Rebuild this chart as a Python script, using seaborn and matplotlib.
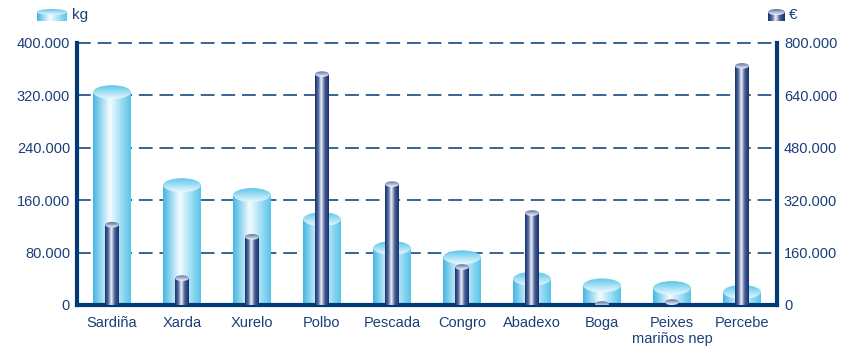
import numpy as np
import matplotlib.pyplot as plt
import seaborn as sns
from matplotlib.colors import LinearSegmentedColormap
from matplotlib.patches import Ellipse
from matplotlib.ticker import FuncFormatter

especies = ["Sardiña", "Xarda", "Xurelo", "Polbo", "Pescada", "Congro",
            "Abadexo", "Boga", "Peixes\nmariños nep", "Percebe"]
kg = [325000, 183000, 168000, 131000, 87000, 73000, 40000, 30000, 26000, 20000]
euros = [245000, 82000, 208000, 705000, 369000, 116000, 281000, 3000, 9000, 730000]

AZUL = '#003a78'
TEXTO = '#1b3f7a'

sns.set_theme(style='white')
plt.rcParams['font.family'] = ['Liberation Sans', 'DejaVu Sans']

claro = LinearSegmentedColormap.from_list('claro', [(0, '#44b6e2'), (0.44, '#f4fcff'), (1, '#58c4ea')])
escuro = LinearSegmentedColormap.from_list('escuro', [(0, '#13306c'), (0.25, '#5a6fa3'), (0.45, '#f2f4fa'),
                                                      (0.7, '#4a5f96'), (1, '#13306c')])
tapa_claro = LinearSegmentedColormap.from_list('tc', ['#5cc6ec', '#eaf8fd'])
tapa_escuro = LinearSegmentedColormap.from_list('te', ['#5a6fa3', '#f5f7fb'])

grad = np.linspace(0, 1, 256).reshape(1, -1)
vgrad = np.linspace(0, 1, 64).reshape(-1, 1)


def cilindros(ax, cmap, cmap_tapa, alto_tapa):
    for bar in list(ax.patches):
        x, w, h = bar.get_x(), bar.get_width(), bar.get_height()
        bar.set_facecolor('none')
        bar.set_edgecolor('none')
        im = ax.imshow(grad, cmap=cmap, extent=(x, x + w, 0, h), aspect='auto', zorder=2)
        im.set_clip_path(bar)
        tapa = Ellipse((x + w / 2, h), w, alto_tapa, facecolor='none', edgecolor='none', zorder=3)
        ax.add_patch(tapa)
        im2 = ax.imshow(vgrad, cmap=cmap_tapa, extent=(x, x + w, h - alto_tapa / 2, h + alto_tapa / 2),
                        aspect='auto', origin='upper', zorder=3)
        im2.set_clip_path(tapa)


def icona(rect, cmap, cmap_tapa):
    a = fig.add_axes(rect)
    a.imshow(grad, cmap=cmap, extent=(0, 1, 0, 0.75), aspect='auto')
    e = Ellipse((0.5, 0.75), 1, 0.5, facecolor='none', edgecolor='none')
    a.add_patch(e)
    im = a.imshow(vgrad, cmap=cmap_tapa, extent=(0, 1, 0.5, 1.0), aspect='auto', origin='upper')
    im.set_clip_path(e)
    a.set_xlim(0, 1)
    a.set_ylim(0, 1)
    a.axis('off')


fmt = FuncFormatter(lambda v, p: f'{int(v):,}'.replace(',', '.'))

fig = plt.figure(figsize=(8.57, 3.55), dpi=100)
ax = fig.add_axes([77 / 857, 1 - 305 / 355, 700 / 857, 262 / 355])
ax2 = ax.twinx()

sns.barplot(x=especies, y=kg, ax=ax, width=0.54, color='#5ec8ec')
sns.barplot(x=especies, y=euros, ax=ax2, width=0.2, color='#13306c')

cilindros(ax, claro, tapa_claro, 21000)
cilindros(ax2, escuro, tapa_escuro, 17000)

ax.set_xlim(-0.5, 9.5)
ax.set_ylim(0, 400000)
ax2.set_ylim(0, 800000)
ax.set_yticks(np.arange(0, 400001, 80000))
ax2.set_yticks(np.arange(0, 800001, 160000))
ax.yaxis.set_major_formatter(fmt)
ax2.yaxis.set_major_formatter(fmt)

ax.set_axisbelow(True)
ax.yaxis.grid(True, linestyle=(0, (9, 4.5)), color=AZUL, linewidth=1.1)
for l in ax.get_ygridlines():
    l.set_clip_on(False)
ax.xaxis.grid(False)
ax2.grid(False)

for s in ['top', 'right']:
    ax.spines[s].set_visible(False)
for s in ['top', 'left', 'bottom']:
    ax2.spines[s].set_visible(False)
for s in ['left', 'bottom']:
    ax.spines[s].set_color(AZUL)
    ax.spines[s].set_linewidth(3)
ax2.spines['right'].set_color(AZUL)
ax2.spines['right'].set_linewidth(3)

ax.set_xticks(np.arange(0.5, 9, 1), minor=True)
ax.tick_params(axis='x', which='major', length=0, pad=8, labelcolor=TEXTO, labelsize=10.5)
ax.tick_params(axis='x', which='minor', direction='in', length=7, width=3, color=AZUL)
ax.tick_params(axis='y', length=0, pad=5, labelcolor=TEXTO, labelsize=10.5)
ax2.tick_params(axis='y', length=0, pad=5, labelcolor=TEXTO, labelsize=10.5)
ax.set_ylabel('')
ax2.set_ylabel('')

icona([37 / 857, 1 - 21 / 355, 30 / 857, 12 / 355], claro, tapa_claro)
fig.text(72 / 857, 1 - 15 / 355, 'kg', color=TEXTO, fontsize=11, va='center')
icona([768 / 857, 1 - 21 / 355, 17 / 857, 12 / 355], escuro, tapa_escuro)
fig.text(789 / 857, 1 - 15 / 355, '€', color=TEXTO, fontsize=11, va='center')

fig.savefig('out.png', dpi=100)
